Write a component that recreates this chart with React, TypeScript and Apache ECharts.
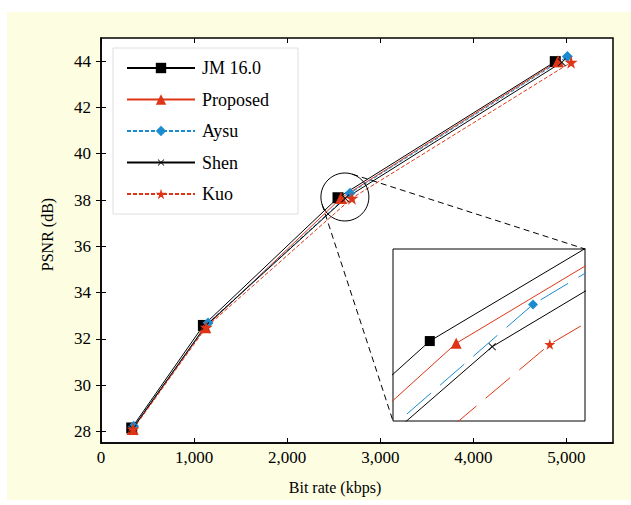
import React, { useEffect, useRef } from "react";
import * as echarts from "echarts";

const xTicks = [0, 1000, 2000, 3000, 4000, 5000];
const yTicks = [28, 30, 32, 34, 36, 38, 40, 42, 44];

const jm = [[330, 28.15], [1100, 32.58], [2546, 38.098], [4880, 43.98]];
const proposed = [[340, 28.1], [1120, 32.5], [2579, 38.086], [4910, 44.0]];
const aysu = [[350, 28.22], [1150, 32.68], [2675, 38.292], [5010, 44.2]];
const shen = [[340, 28.12], [1120, 32.55], [2624, 38.068], [4950, 43.95]];
const kuo = [[345, 28.1], [1130, 32.5], [2696, 38.081], [5050, 43.95]];

const insetX = [2500, 2740];
const insetY = [37.675, 38.585];
const zoomCenter = [2620, 38.13];

const RED = "#dd3516";
const BLUE = "#1b8bcf";
const FONT = "Liberation Serif";

const STAR = "path://M50,0 L61,35 L98,35 L68,57 L79,91 L50,70 L21,91 L32,57 L2,35 L39,35 Z";
const CROSS =
  "path://M-3,-3 L-3,-3 M13,13 L13,13 M0.8,0 L5,4.2 L9.2,0 L10,0.8 L5.8,5 L10,9.2 L9.2,10 L5,5.8 L0.8,10 L0,9.2 L4.2,5 L0,0.8 Z";

const MAIN = { left: 101, top: 38, width: 512, height: 405 };
const INSET = { left: 393, top: 249, width: 192, height: 172 };

type Def = { name: string; data: number[][]; color: string; symbol: string; size: number; dashed: boolean; insetSize: number };

const defs: Def[] = [
  { name: "JM 16.0", data: jm, color: "#000000", symbol: "rect", size: 11, dashed: false, insetSize: 10 },
  { name: "Proposed", data: proposed, color: RED, symbol: "triangle", size: 12, dashed: false, insetSize: 11 },
  { name: "Aysu", data: aysu, color: BLUE, symbol: "diamond", size: 11, dashed: true, insetSize: 10 },
  { name: "Shen", data: shen, color: "#000000", symbol: CROSS, size: 13, dashed: false, insetSize: 12 },
  { name: "Kuo", data: kuo, color: RED, symbol: STAR, size: 13, dashed: true, insetSize: 11 },
];

function tangentPoint(cx: number, cy: number, r: number, px: number, py: number, sign: number) {
  const dx = px - cx, dy = py - cy;
  const d = Math.sqrt(dx * dx + dy * dy);
  const base = Math.atan2(dy, dx);
  const off = Math.acos(r / d);
  const a = base + sign * off;
  return [cx + r * Math.cos(a), cy + r * Math.sin(a)];
}

export default function App() {
  const ref = useRef<HTMLDivElement>(null);
  useEffect(() => {
    if (!ref.current) return;
    const chart = echarts.init(ref.current, undefined, { renderer: "svg" });
    const tickStyle = { show: true, inside: true, length: 5, lineStyle: { color: "#000", width: 1 } };
    const mainSeries = defs.map((d) => ({
      name: d.name,
      type: "line",
      xAxisIndex: 0,
      yAxisIndex: 0,
      data: d.data,
      symbol: d.symbol,
      symbolSize: d.size,
      showSymbol: true,
      color: d.color,
      itemStyle: { color: d.color, borderWidth: 0 },
      lineStyle: { color: d.color, width: 1, type: d.dashed ? [4, 2] : "solid" },
      emphasis: { disabled: true },
      z: 3,
    }));
    const insetSeries = defs.map((d) => ({
      name: d.name,
      type: "line",
      xAxisIndex: 3,
      yAxisIndex: 3,
      data: d.data,
      symbol: d.symbol,
      symbolSize: d.insetSize,
      color: d.color,
      clip: true,
      itemStyle: { color: d.color, borderWidth: 0 },
      lineStyle: { color: d.color, width: 1, type: d.dashed ? [32, 12] : "solid" },
      emphasis: { disabled: true },
      z: 5,
    }));
    const option: any = {
      animation: false,
      grid: [
        { ...MAIN, show: true, backgroundColor: "#ffffff", borderColor: "#000", borderWidth: 1.5, containLabel: false },
        { ...INSET, show: true, backgroundColor: "#ffffff", borderColor: "#000", borderWidth: 1, containLabel: false, z: 4 },
      ],
      xAxis: [
        {
          gridIndex: 0, type: "value", min: 0, max: 5500, position: "bottom",
          name: "Bit rate (kbps)", nameLocation: "middle", nameGap: 36,
          nameTextStyle: { fontFamily: FONT, fontSize: 16, color: "#000", padding: [0, 44, 0, 0] },
          axisLine: { show: true, lineStyle: { color: "#000", width: 1.5 } },
          axisTick: { ...tickStyle, customValues: xTicks },
          axisLabel: { customValues: xTicks, fontFamily: FONT, fontSize: 17, color: "#000", margin: 6,
            formatter: (v: number) => v.toLocaleString("en-US") },
          splitLine: { show: false },
        },
        {
          gridIndex: 0, type: "value", min: 0, max: 5500, position: "top",
          axisLine: { show: false }, axisTick: { ...tickStyle, customValues: xTicks },
          axisLabel: { show: false }, splitLine: { show: false },
        },
        {
          gridIndex: 0, type: "value", min: 0, max: 5500, show: false,
        },
        {
          gridIndex: 1, type: "value", min: insetX[0], max: insetX[1], show: false,
        },
      ],
      yAxis: [
        {
          gridIndex: 0, type: "value", min: 27.5, max: 45, position: "left",
          name: "PSNR (dB)", nameLocation: "middle", nameGap: 46,
          nameTextStyle: { fontFamily: FONT, fontSize: 16, color: "#000", padding: [0, 0, 0, 12] },
          axisLine: { show: true, lineStyle: { color: "#000", width: 1.5 } },
          axisTick: { ...tickStyle, customValues: yTicks },
          axisLabel: { customValues: yTicks, fontFamily: FONT, fontSize: 17, color: "#000", margin: 10 },
          splitLine: { show: false },
        },
        {
          gridIndex: 0, type: "value", min: 27.5, max: 45, position: "right",
          axisLine: { show: false }, axisTick: { ...tickStyle, customValues: yTicks },
          axisLabel: { show: false }, splitLine: { show: false },
        },
        {
          gridIndex: 0, type: "value", min: 27.5, max: 45, show: false,
        },
        {
          gridIndex: 1, type: "value", min: insetY[0], max: insetY[1], show: false,
        },
      ],
      legend: {
        show: true,
        orient: "vertical",
        left: 113,
        top: 48,
        data: defs.map((d) => d.name),
        itemWidth: 68,
        itemHeight: 13,
        itemGap: 13.5,
        padding: [11, 29, 11, 13],
        backgroundColor: "#ffffff",
        borderColor: "#dedede",
        borderWidth: 1,
        textStyle: { fontFamily: FONT, fontSize: 18, color: "#000", padding: [0, 0, 0, 2] },
        selectedMode: false,
        z: 10,
      },
      series: [...mainSeries, ...insetSeries],
    };
    chart.setOption(option);

    const c = chart.convertToPixel({ gridIndex: 0 }, zoomCenter) as number[];
    const r = 24;
    const tr = [INSET.left + INSET.width, INSET.top];
    const bl = [INSET.left, INSET.top + INSET.height];
    const t1 = tangentPoint(c[0], c[1], r, tr[0], tr[1], -1);
    const t2 = tangentPoint(c[0], c[1], r, bl[0], bl[1], 1);
    chart.setOption({
      graphic: [
        { type: "circle", shape: { cx: c[0], cy: c[1], r }, style: { fill: "none", stroke: "#000", lineWidth: 1 }, z: 20 },
        { type: "line", shape: { x1: t1[0], y1: t1[1], x2: tr[0], y2: tr[1] }, style: { stroke: "#000", lineWidth: 1, lineDash: [6, 4] }, z: 20 },
        { type: "line", shape: { x1: t2[0], y1: t2[1], x2: bl[0], y2: bl[1] }, style: { stroke: "#000", lineWidth: 1, lineDash: [6, 4] }, z: 20 },
      ],
    });
    return () => chart.dispose();
  }, []);
  return (
    <div style={{ position: "absolute", left: 0, top: 0, width: 631, height: 505, background: "#ffffff" }}>
      <div style={{ position: "absolute", left: 7, top: 12, width: 624, height: 488, background: "#fdfde1" }} />
      <div ref={ref} style={{ position: "absolute", left: 0, top: 0, width: 631, height: 505 }} />
    </div>
  );
}
